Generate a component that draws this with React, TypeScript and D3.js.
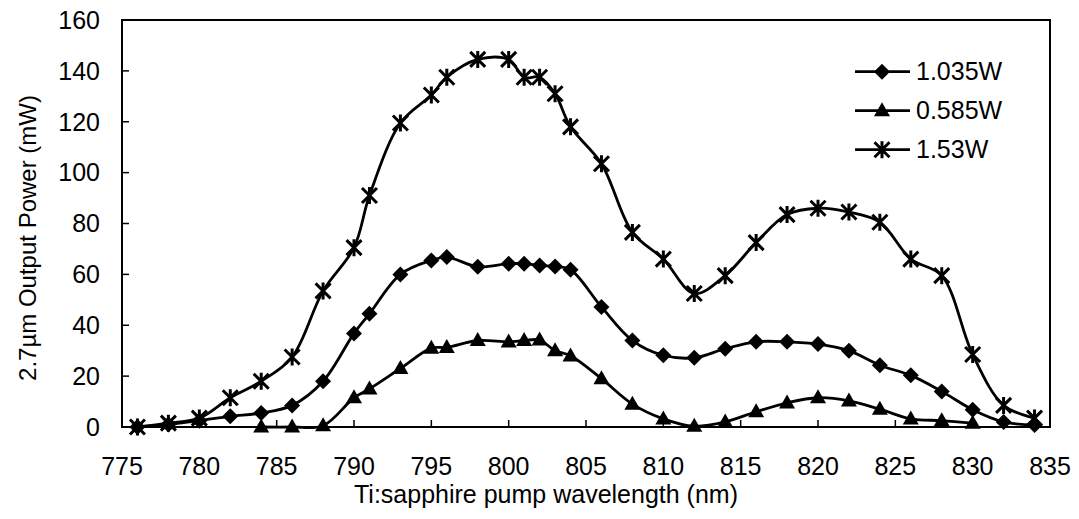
import React from "react";
import * as d3 from "d3";

// ---- data ----
const xTicks = [775, 780, 785, 790, 795, 800, 805, 810, 815, 820, 825, 830, 835];
const yTicks = [0, 20, 40, 60, 80, 100, 120, 140, 160];

const wlDiamond = [776, 778, 780, 782, 784, 786, 788, 790, 791, 793, 795, 796, 798, 800, 801, 802, 803, 804, 806, 808, 810, 812, 814, 816, 818, 820, 822, 824, 826, 828, 830, 832, 834];
const pDiamond = [0, 1, 2.5, 4.2, 5.5, 8.5, 18, 36.8, 44.5, 60, 65.5, 66.8, 63, 64.2, 64.2, 63.5, 63.1, 61.8, 47.2, 34, 28.2, 27.2, 30.8, 33.5, 33.5, 32.6, 30, 24.3, 20.3, 14, 6.8, 2, 0.8];

const wlTriangle = [784, 786, 788, 790, 791, 793, 795, 796, 798, 800, 801, 802, 803, 804, 806, 808, 810, 812, 814, 816, 818, 820, 822, 824, 826, 828, 830];
const pTriangle = [0, 0, 0.5, 11.5, 15, 23, 31, 31.3, 34, 33.5, 34, 34.2, 30, 28, 19, 9, 3.2, 0.3, 2, 6, 9.5, 11.5, 10.3, 7, 3.2, 2.5, 1.5];

const wlStar = [776, 778, 780, 782, 784, 786, 788, 790, 791, 793, 795, 796, 798, 800, 801, 802, 803, 804, 806, 808, 810, 812, 814, 816, 818, 820, 822, 824, 826, 828, 830, 832, 834];
const pStar = [0, 1.5, 3.5, 11.5, 18, 27.5, 53.5, 70.5, 91, 119.5, 130.5, 137.5, 144.5, 144.5, 137.5, 137.5, 131, 118, 103.5, 76.5, 66, 52.5, 59.5, 72.5, 83.5, 86, 84.5, 80.5, 66, 59.5, 28.5, 8.5, 3.5];

const seriesNames = ["1.035W", "0.585W", "1.53W"];
const markerKinds = ["diamond", "triangle", "star"];

const FONT = "'Liberation Sans', Arial, Helvetica, sans-serif";

function Marker({ kind, x, y }: { kind: string; x: number; y: number }) {
  if (kind === "diamond") {
    const r = 8;
    return <path d={`M${x},${y - r}L${x + r},${y}L${x},${y + r}L${x - r},${y}Z`} fill="#000" />;
  }
  if (kind === "triangle") {
    const w = 8, h = 14;
    return <path d={`M${x},${y - h * 0.6}L${x + w},${y + h * 0.4}L${x - w},${y + h * 0.4}Z`} fill="#000" />;
  }
  const r = 7.5;
  return (
    <path
      d={`M${x - r},${y - r}L${x + r},${y + r}M${x - r},${y + r}L${x + r},${y - r}M${x},${y - r - 1}L${x},${y + r + 1}`}
      stroke="#000"
      strokeWidth={3}
      fill="none"
    />
  );
}

export default function App() {
  const W = 1079, H = 519;
  const x = d3.scaleLinear().domain([775, 835]).range([122, 1050]);
  const y = d3.scaleLinear().domain([0, 160]).range([427, 20]);

  const series = [
    { wl: wlDiamond, p: pDiamond },
    { wl: wlTriangle, p: pTriangle },
    { wl: wlStar, p: pStar },
  ];

  const line = d3
    .line<[number, number]>()
    .x((d) => x(d[0]))
    .y((d) => y(d[1]))
    .curve(d3.curveCatmullRom.alpha(0.5));

  return (
    <svg
      width={W}
      height={H}
      style={{ position: "absolute", left: 0, top: 0, background: "#fff" }}
      fontFamily={FONT}
    >
      <rect x={0} y={0} width={W} height={H} fill="#fff" />
      {/* plot frame */}
      <rect x={x(775)} y={y(160)} width={x(835) - x(775)} height={y(0) - y(160)} fill="none" stroke="#000" strokeWidth={2} />
      {/* y ticks */}
      {yTicks.map((t) => (
        <g key={"y" + t}>
          <line x1={x(775)} x2={x(775) + 7} y1={y(t)} y2={y(t)} stroke="#000" strokeWidth={1.5} />
          <text x={100} y={y(t)} dy="0.35em" textAnchor="end" fontSize={25} fill="#000">
            {t}
          </text>
        </g>
      ))}
      {/* x ticks */}
      {xTicks.map((t) => (
        <g key={"x" + t}>
          <line x1={x(t)} x2={x(t)} y1={y(0)} y2={y(0) - 7} stroke="#000" strokeWidth={1.5} />
          <text x={x(t)} y={475} textAnchor="middle" fontSize={25} fill="#000">
            {t}
          </text>
        </g>
      ))}
      {/* axis titles */}
      <text x={546} y={503} textAnchor="middle" fontSize={25} fill="#000">
        Ti:sapphire pump wavelength (nm)
      </text>
      <text transform="translate(36,238) rotate(-90)" textAnchor="middle" fontSize={24} fill="#000">
        2.7µm Output Power (mW)
      </text>
      {/* series */}
      {series.map((s, i) => (
        <g key={"s" + i}>
          <path
            d={line(s.wl.map((w, j) => [w, s.p[j]] as [number, number])) || ""}
            fill="none"
            stroke="#000"
            strokeWidth={2.8}
          />
          {s.wl.map((w, j) => (
            <Marker key={j} kind={markerKinds[i]} x={x(w)} y={y(s.p[j])} />
          ))}
        </g>
      ))}
      {/* legend */}
      {seriesNames.map((n, i) => {
        const ly = 71.7 + i * 39;
        return (
          <g key={"l" + i}>
            <line x1={855} x2={910} y1={ly} y2={ly} stroke="#000" strokeWidth={2.8} />
            <Marker kind={markerKinds[i]} x={882} y={ly} />
            <text x={916} y={ly} dy="0.35em" fontSize={25} fill="#000">
              {n}
            </text>
          </g>
        );
      })}
    </svg>
  );
}
